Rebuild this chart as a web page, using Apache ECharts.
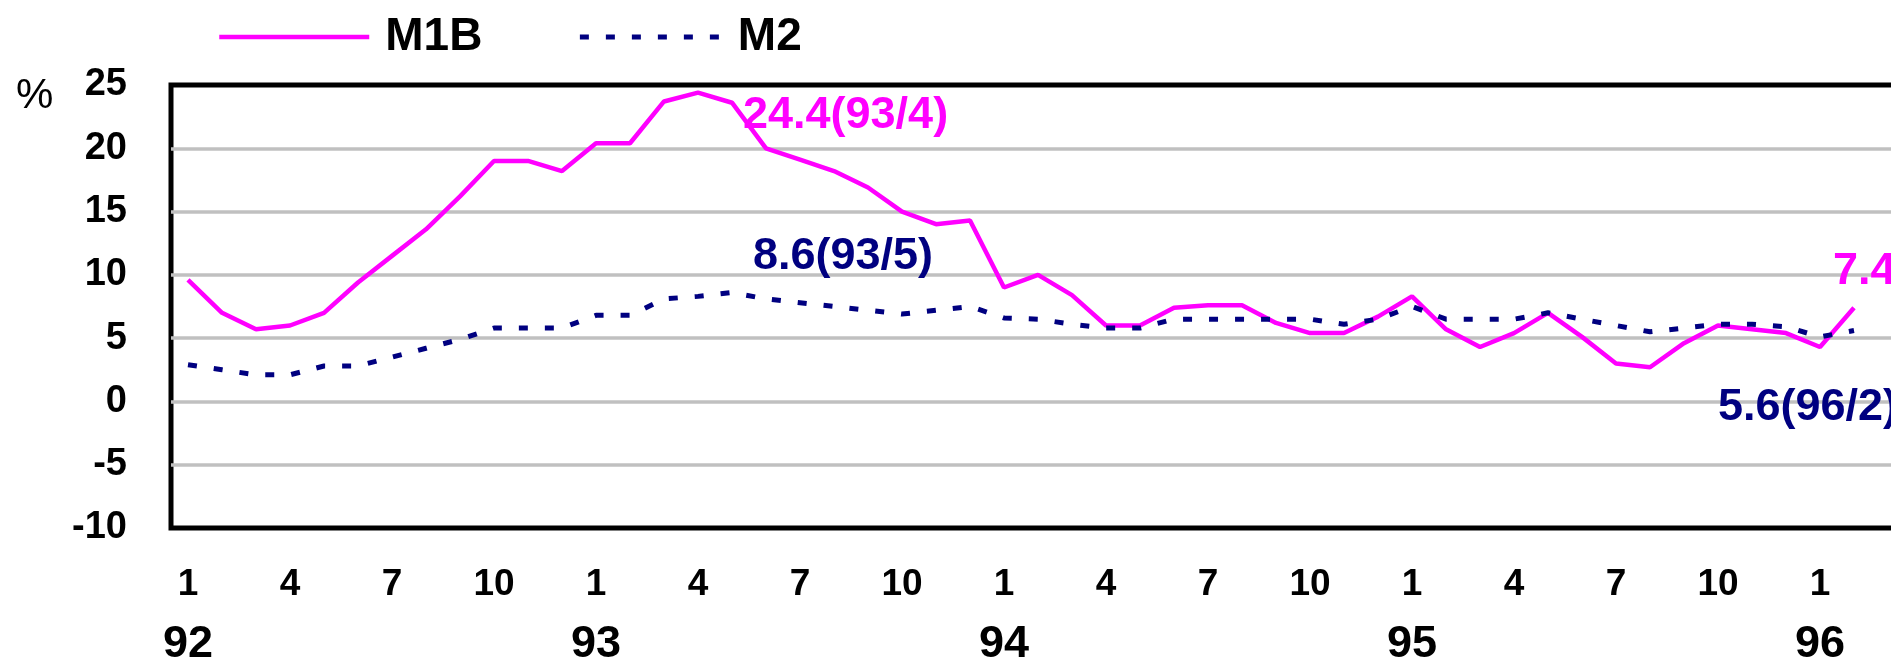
<!DOCTYPE html>
<html><head><meta charset="utf-8">
<script src="https://cdn.jsdelivr.net/npm/echarts@6/dist/echarts.min.js"></script>
<style>html,body{margin:0;padding:0;background:#fff}#c{width:1891px;height:658px}</style>
</head><body><div id="c"></div>
<script>
// ---- data ----
const years = ['92', '93', '94', '95', '96'];
const months = ['1', '2', '3', '4', '5', '6', '7', '8', '9', '10', '11', '12'];
const shownMonths = ['1', '4', '7', '10'];
const yMin = -10, yMax = 25, yStep = 5;

const m1b = [
  9.6, 7.0, 5.7, 6.0, 7.0, 9.4, 11.5, 13.6, 16.2, 19.0, 19.0, 18.2,   // 92
  20.4, 20.4, 23.7, 24.4, 23.6, 20.0, 19.1, 18.2, 16.9, 15.0, 14.0, 14.3, // 93
  9.0, 10.0, 8.4, 6.0, 6.0, 7.4, 7.6, 7.6, 6.2, 5.4, 5.4, 6.7,       // 94
  8.3, 5.7, 4.3, 5.4, 7.0, 5.1, 3.0, 2.7, 4.6, 6.0, 5.7, 5.4,        // 95
  4.3, 7.4                                                          // 96
];
const m2 = [
  2.9, 2.5, 2.1, 2.1, 2.8, 2.8, 3.5, 4.2, 4.9, 5.8, 5.8, 5.8,
  6.8, 6.8, 8.1, 8.3, 8.6, 8.1, 7.8, 7.5, 7.2, 6.9, 7.2, 7.5,
  6.6, 6.5, 6.1, 5.8, 5.8, 6.5, 6.5, 6.5, 6.5, 6.5, 6.1, 6.5,
  7.5, 6.5, 6.5, 6.5, 7.0, 6.5, 6.0, 5.5, 5.8, 6.1, 6.1, 5.9,
  5.1, 5.6
];
// annotated points: [category, show date?]
const m1bNotes = [['93/4', true], ['96/2', false]];
const m2Notes = [['93/5', true], ['96/2', true]];

// ---- build ----
const categories = [];
years.forEach(y => months.forEach(m => categories.push(y + '/' + m)));

const FONT = '"Liberation Sans", Arial, sans-serif';
const M1B_COLOR = '#ff00ff';
const M2_COLOR = '#000080';

function noteLabel(arr, cat, withDate) {
  const v = arr[categories.indexOf(cat)];
  return v.toFixed(1) + (withDate ? '(' + cat + ')' : '');
}
const offsets = {
  'M1B|93/4': [45, 23], 'M1B|96/2': [-21, -36],
  'M2|93/5': [21, -36], 'M2|96/2': [-136, 77]
};
function markData(name, arr, notes) {
  return notes.map(([cat, withDate]) => ({
    coord: [cat, arr[categories.indexOf(cat)]],
    symbol: 'circle', symbolSize: 0,
    label: {
      show: true, formatter: noteLabel(arr, cat, withDate),
      position: 'inside', align: 'left', verticalAlign: 'middle',
      offset: offsets[name + '|' + cat],
      fontSize: 45, fontWeight: 'bold', fontFamily: FONT,
      color: name === 'M1B' ? M1B_COLOR : M2_COLOR
    }
  }));
}

const chart = echarts.init(document.getElementById('c'), null, {renderer: 'canvas'});
chart.setOption({
  backgroundColor: '#ffffff',
  animation: false,
  title: {
    text: '%', left: 11, top: 70, padding: 5,
    textStyle: {fontSize: 42, fontWeight: 'normal', color: '#000', fontFamily: FONT}
  },
  legend: {
    data: ['M1B', {name: 'M2', textStyle: {padding: [0, 0, 0, 3]}}],
    left: 217, top: 14, padding: 0,
    itemWidth: 150, itemHeight: 46, itemGap: 95,
    itemStyle: {opacity: 0},
    lineStyle: {width: 'inherit'},
    textStyle: {fontSize: 46, fontWeight: 'bold', color: '#000', fontFamily: FONT, padding: [0, 0, 0, 11]}
  },
  grid: {
    left: 171, top: 85, height: 443, width: 34 * categories.length,
    containLabel: false, outerBoundsMode: 'none',
    show: true, borderColor: '#000', borderWidth: 5, backgroundColor: 'transparent'
  },
  xAxis: {
    type: 'category', data: categories, boundaryGap: true,
    axisLine: {show: false}, axisTick: {show: false}, splitLine: {show: false},
    axisLabel: {
      interval: 0, margin: 27,
      formatter: function (val) {
        const [y, m] = val.split('/');
        if (shownMonths.indexOf(m) < 0) return '';
        if (m === '1') return '{m|' + m + '}\n{y|' + y + '}';
        return '{m|' + m + '}';
      },
      rich: {
        m: {fontSize: 37, fontWeight: 'bold', color: '#000', fontFamily: FONT, lineHeight: 60},
        y: {fontSize: 45, fontWeight: 'bold', color: '#000', fontFamily: FONT, lineHeight: 60}
      }
    }
  },
  yAxis: {
    type: 'value', min: yMin, max: yMax, interval: yStep,
    axisLine: {show: false}, axisTick: {show: false},
    splitLine: {show: true, showMinLine: false, showMaxLine: false, lineStyle: {color: '#c0c0c0', width: 3.5}},
    axisLabel: {margin: 44, fontSize: 38, fontWeight: 'bold', color: '#000', fontFamily: FONT}
  },
  series: [
    {
      name: 'M1B', type: 'line', data: m1b, symbol: 'none',
      lineStyle: {color: M1B_COLOR, width: 4.5}, itemStyle: {color: M1B_COLOR},
      markPoint: {symbol: 'circle', symbolSize: 0, data: markData('M1B', m1b, m1bNotes), silent: true}
    },
    {
      name: 'M2', type: 'line', data: m2, symbol: 'none',
      lineStyle: {color: M2_COLOR, width: 5, type: [9, 17]}, itemStyle: {color: M2_COLOR},
      markPoint: {symbol: 'circle', symbolSize: 0, data: markData('M2', m2, m2Notes), silent: true}
    }
  ]
});
</script></body></html>
